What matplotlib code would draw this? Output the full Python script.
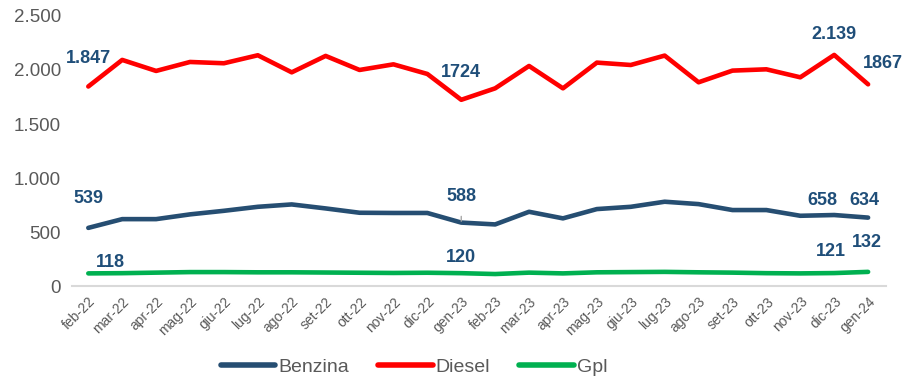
import numpy as np
import matplotlib
matplotlib.use('Agg')
import matplotlib.pyplot as plt

plt.rcParams['font.family'] = ['Liberation Sans', 'DejaVu Sans']

# Mesi (feb-22 .. gen-24)
mesi = ['feb-22', 'mar-22', 'apr-22', 'mag-22', 'giu-22', 'lug-22', 'ago-22', 'set-22',
        'ott-22', 'nov-22', 'dic-22', 'gen-23', 'feb-23', 'mar-23', 'apr-23', 'mag-23',
        'giu-23', 'lug-23', 'ago-23', 'set-23', 'ott-23', 'nov-23', 'dic-23', 'gen-24']

benzina = [539, 620, 620, 664, 697, 734, 756, 719, 679, 677, 677, 588,
           571, 688, 627, 713, 734, 781, 759, 704, 704, 651, 658, 634]
diesel = [1847, 2093, 1991, 2074, 2062, 2136, 1978, 2130, 2000, 2052, 1963, 1724,
          1830, 2037, 1830, 2068, 2046, 2133, 1886, 1994, 2006, 1932, 2139, 1867]
gpl = [118, 120, 125, 130, 130, 128, 128, 126, 124, 122, 124, 120,
       112, 125, 118, 128, 130, 132, 128, 125, 120, 118, 121, 132]

# (serie, indice, testo, dx, dy) in punti
etichette = [
    ('diesel', 0, '1.847', 0, 20),
    ('diesel', 11, '1724', 0, 20),
    ('diesel', 22, '2.139', 0, 14.4),
    ('diesel', 23, '1867', 10.8, 15.2),
    ('benzina', 0, '539', 0, 21),
    ('benzina', 11, '588', 0, 18.6),
    ('benzina', 22, '658', -8.6, 10.8),
    ('benzina', 23, '634', -3, 12.6),
    ('gpl', 0, '118', 16, 7.6),
    ('gpl', 11, '120', 0, 11),
    ('gpl', 22, '121', -2.4, 15.3),
    ('gpl', 23, '132', -0.7, 20.9),
]

serie = {'benzina': benzina, 'diesel': diesel, 'gpl': gpl}
x = np.arange(len(mesi))

fig = plt.figure(figsize=(9.06, 3.79), dpi=100)
ax = fig.add_axes([0.0795, 0.245, 0.8985, 0.713])

ax.plot(x, benzina, color='#264E72', lw=3.3, solid_capstyle='round', label='Benzina')
ax.plot(x, diesel, color='#FF0000', lw=3.3, solid_capstyle='round', label='Diesel')
ax.plot(x, gpl, color='#00B050', lw=3.3, solid_capstyle='round', label='Gpl')

for nome, i, testo, dx, dy in etichette:
    kw = {}
    if testo == '588':
        kw['arrowprops'] = dict(arrowstyle='-', color='#A6A6A6', lw=1,
                                shrinkA=6, shrinkB=1)
    ax.annotate(testo, (x[i], serie[nome][i]), xytext=(dx, dy),
                textcoords='offset points', ha='center', va='center',
                fontsize=13, fontweight='bold', color='#1F4E79', **kw)

ax.set_xlim(-0.48, len(mesi) - 0.47)
ax.set_ylim(0, 2500)
ax.set_yticks([0, 500, 1000, 1500, 2000, 2500])
ax.set_yticklabels(['0', '500', '1.000', '1.500', '2.000', '2.500'])
ax.set_xticks(x)
ax.set_xticklabels(mesi, rotation=45, ha='right', rotation_mode='anchor')
ax.tick_params(axis='y', length=0, labelsize=13.5, labelcolor='#595959', pad=8)
ax.tick_params(axis='x', length=0, labelsize=10, labelcolor='#595959', pad=6)

for s in ['top', 'right', 'left']:
    ax.spines[s].set_visible(False)
ax.spines['bottom'].set_color('#D9D9D9')
ax.spines['bottom'].set_linewidth(1.5)

leg = fig.legend(loc='center', bbox_to_anchor=(0.457, 0.032), ncol=3, frameon=False,
                 fontsize=14, handlelength=2.8, handletextpad=0.15, columnspacing=1.5,
                 labelcolor='#595959',
                 prop={'family': ['Liberation Sans Narrow', 'Liberation Sans'], 'size': 14})
for h in leg.legend_handles:
    h.set_linewidth(4)

fig.savefig('out.png', dpi=100)
